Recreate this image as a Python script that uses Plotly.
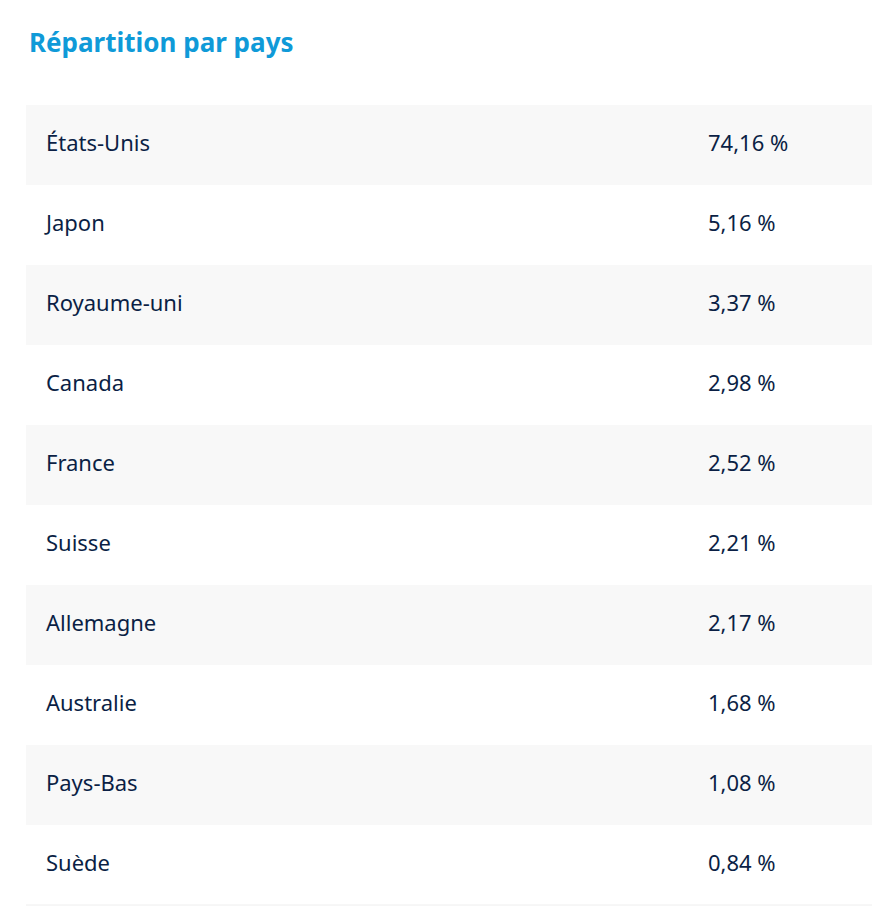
import plotly.graph_objects as go

pays = ['États-Unis', 'Japon', 'Royaume-uni', 'Canada', 'France',
        'Suisse', 'Allemagne', 'Australie', 'Pays-Bas', 'Suède']
parts = [74.16, 5.16, 3.37, 2.98, 2.52, 2.21, 2.17, 1.68, 1.08, 0.84]
libelles = [f"{v:.2f} %".replace('.', ',') for v in parts]

rang = list(range(len(pays)))
fonds = ['#f8f8f8' if i % 2 == 0 else '#ffffff' for i in rang]

fig = go.Figure()

# bandes des lignes
fig.add_trace(go.Bar(
    y=rang, x=[1] * len(pays), base=0, orientation='h', width=1,
    marker=dict(color=fonds, line=dict(width=0)),
    hoverinfo='skip', showlegend=False
))

police = dict(family='Noto Sans', size=22, color='#0b1f45')

fig.add_trace(go.Scatter(
    y=rang, x=[0.0234] * len(pays), mode='text', text=pays,
    textposition='middle right', textfont=police, showlegend=False
))
fig.add_trace(go.Scatter(
    y=rang, x=[0.7986] * len(pays), mode='text', text=libelles,
    textposition='middle right', textfont=police, showlegend=False
))

fig.add_annotation(
    text='<b>Répartition par pays</b>', xref='paper', yref='paper',
    x=0.001, y=1 + 63 / 800, xanchor='left', yanchor='middle', showarrow=False,
    font=dict(family='Noto Sans', size=26, color='#0f9ad8')
)

fig.add_shape(type='line', xref='paper', yref='paper', x0=0, x1=1, y0=0, y1=0,
              line=dict(color='#eeeeee', width=1))

# la page ajoute une marge de 8 px en haut et à gauche
fig.update_layout(
    width=872, height=898,
    margin=dict(l=18, r=0, t=97, b=1),
    paper_bgcolor='white', plot_bgcolor='white',
    xaxis=dict(range=[0, 1], visible=False, fixedrange=True),
    yaxis=dict(range=[len(pays) - 0.5, -0.5], visible=False, fixedrange=True),
    bargap=0
)

fig.write_html('out.html')
